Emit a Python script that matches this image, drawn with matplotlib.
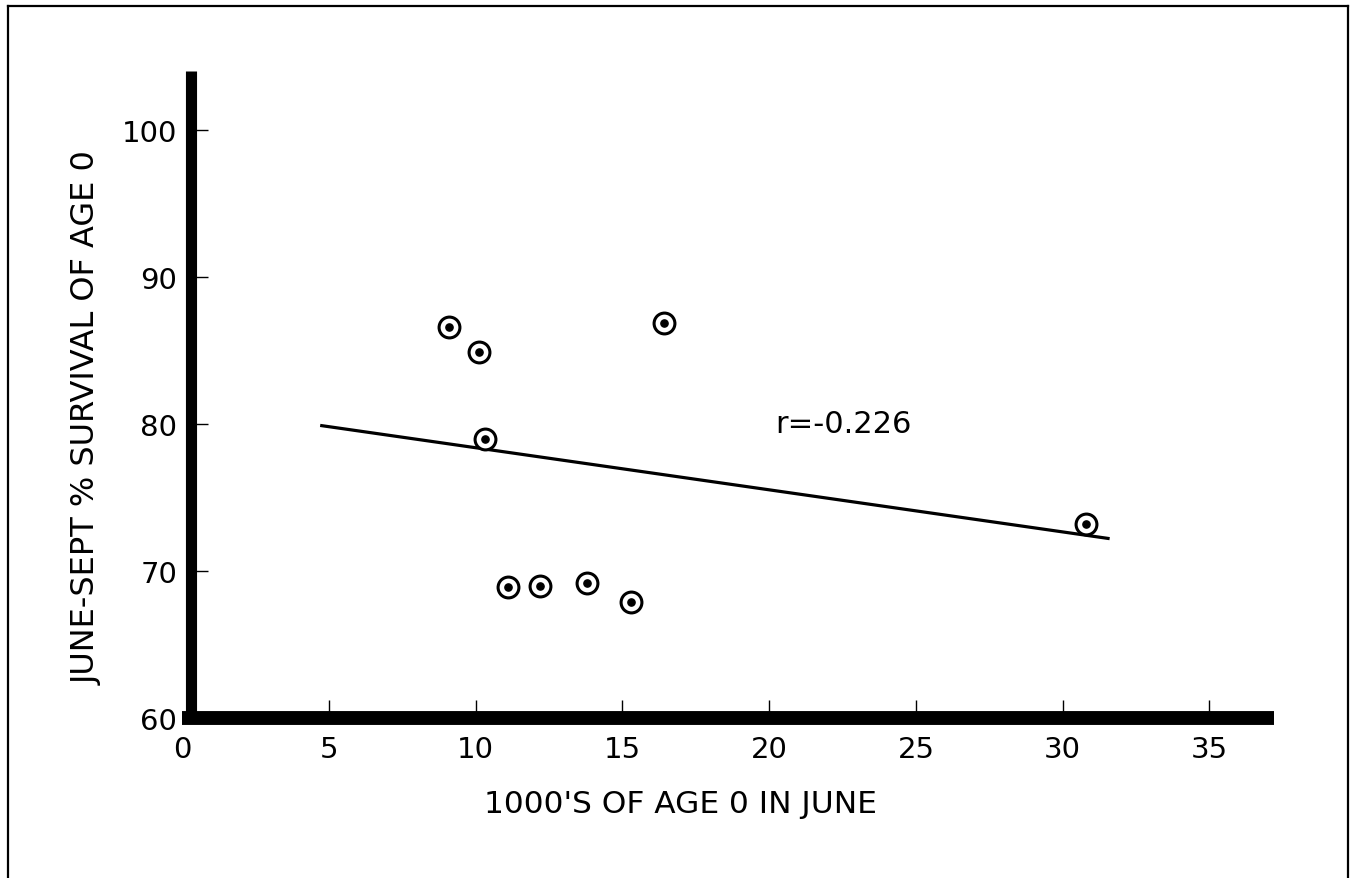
import matplotlib
matplotlib.use("Agg")
import matplotlib.pyplot as plt
from matplotlib.lines import Line2D

# age-0 abundance in June (thousands) vs. June-Sept survival (%)
numar_iunie = [9.1, 10.1, 10.3, 16.4, 11.1, 12.2, 13.8, 15.3, 30.8]
supravietuire = [86.6, 84.9, 79.0, 86.9, 68.9, 69.0, 69.2, 67.9, 73.2]

# fitted line as drawn on the chart
linie_x = [4.7, 31.6]
linie_y = [79.9, 72.2]
eticheta_r = "r=-0.226"

x_ticks = [0, 5, 10, 15, 20, 25, 30, 35]
y_ticks = [60, 70, 80, 90, 100]

plt.rcParams["font.family"] = "DejaVu Sans"

fig = plt.figure(figsize=(13.55, 8.79), dpi=100)
ax = fig.add_axes([0.1345, 0.182, 0.8057, 0.736])

ax.plot(linie_x, linie_y, color="black", linewidth=2.3, solid_capstyle="butt")
ax.plot(numar_iunie, supravietuire, linestyle="none", marker="o", markersize=15,
        markerfacecolor="white", markeredgecolor="black", markeredgewidth=2.2)
ax.plot(numar_iunie, supravietuire, linestyle="none", marker="o", markersize=5.2,
        color="black")

ax.text(20.2, 80.0, eticheta_r, fontsize=22, va="center", ha="left")

ax.set_xlim(0, 37.2)
ax.set_ylim(60, 104)
ax.set_xticks(x_ticks)
ax.set_yticks(y_ticks)

for s in ["top", "right"]:
    ax.spines[s].set_visible(False)
ax.spines["left"].set_linewidth(8)
ax.spines["left"].set_position(("data", 0.3))
ax.spines["left"].set_capstyle("butt")
ax.spines["bottom"].set_linewidth(10)
ax.spines["bottom"].set_capstyle("butt")

ax.tick_params(axis="both", direction="in", width=1.0, labelsize=21)
ax.tick_params(axis="y", length=12, pad=10)
ax.tick_params(axis="x", length=13, pad=12)
# the 0 tick sits under the vertical axis bar
ax.xaxis.get_major_ticks()[0].tick1line.set_visible(False)

ax.set_xlabel("1000'S OF AGE 0 IN JUNE", fontsize=22.5)
ax.xaxis.set_label_coords(0.456, -0.110)
ax.set_ylabel("JUNE-SEPT % SURVIVAL OF AGE 0", fontsize=23)
ax.yaxis.set_label_coords(-0.073, 0.465)

# thin frame around the sheet
cadru = dict(color="black", linewidth=1.6, transform=fig.transFigure)
fig.add_artist(Line2D([0.006, 0.995], [0.992, 0.992], **cadru))
fig.add_artist(Line2D([0.006, 0.006], [0.0, 0.992], **cadru))
fig.add_artist(Line2D([0.995, 0.995], [0.0, 0.992], **cadru))

fig.savefig("out.png", dpi=100)
